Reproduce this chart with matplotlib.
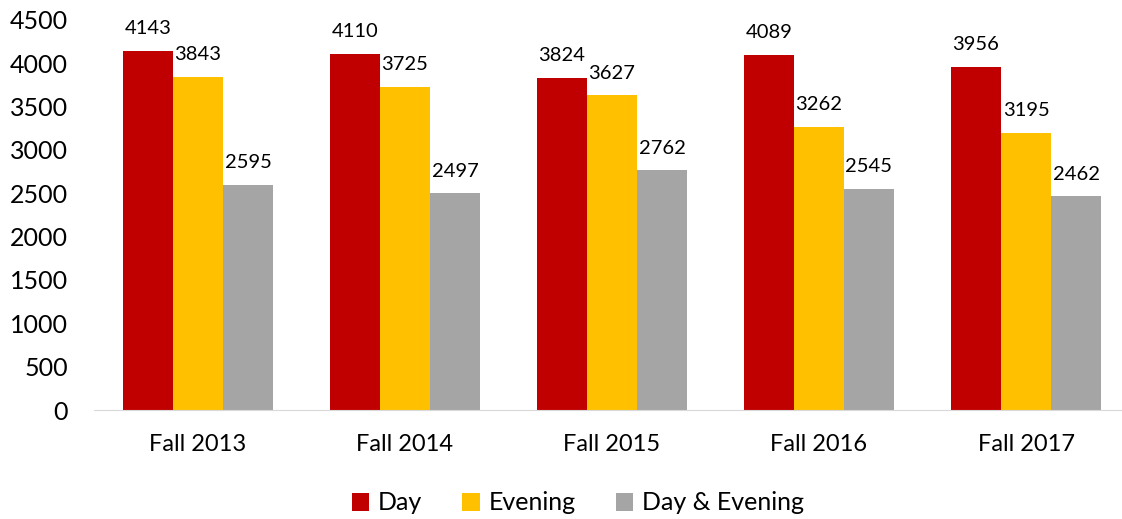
import matplotlib
matplotlib.use("Agg")
import matplotlib.pyplot as plt
import numpy as np

plt.rcParams['font.family'] = ['Lato', 'DejaVu Sans']

terms = ["Fall 2013", "Fall 2014", "Fall 2015", "Fall 2016", "Fall 2017"]
day = [4143, 4110, 3824, 4089, 3956]
evening = [3843, 3725, 3627, 3262, 3195]
day_evening = [2595, 2497, 2762, 2545, 2462]

series = [("Day", day, "#C00000"),
          ("Evening", evening, "#FFC000"),
          ("Day & Evening", day_evening, "#A5A5A5")]

fig = plt.figure(figsize=(11.22, 5.19), dpi=100)
ax = fig.add_axes([0.0842, 0.21, 0.9225, 0.752])

x = np.arange(len(terms))
w = 0.2415
for i, (name, vals, color) in enumerate(series):
    pos = x + (i - 1) * w
    bars = ax.bar(pos, vals, width=w, color=color, label=name)
    for b, v in zip(bars, vals):
        ax.annotate(str(v), (b.get_x() + b.get_width() / 2, v),
                    xytext=(0, 10), textcoords="offset points",
                    ha="center", va="bottom", fontsize=14.5, color="#000000")

ax.set_xlim(-0.5, len(terms) - 0.5)
ax.set_ylim(0, 4500)
ax.set_yticks(range(0, 4501, 500))
ax.set_xticks(x)
ax.set_xticklabels(terms)
ax.tick_params(axis="y", length=0, labelsize=18, pad=19)
ax.tick_params(axis="x", length=0, labelsize=17, pad=17)
for s in ["top", "right", "left"]:
    ax.spines[s].set_visible(False)
ax.spines["bottom"].set_color("#D9D9D9")

fig.legend(loc="center", bbox_to_anchor=(578 / 1122, 1 - 503 / 519), ncol=3,
           frameon=False, fontsize=18, handlelength=0.7, handleheight=0.7,
           columnspacing=1.6, handletextpad=0.35)

fig.savefig("out.png", dpi=100)
